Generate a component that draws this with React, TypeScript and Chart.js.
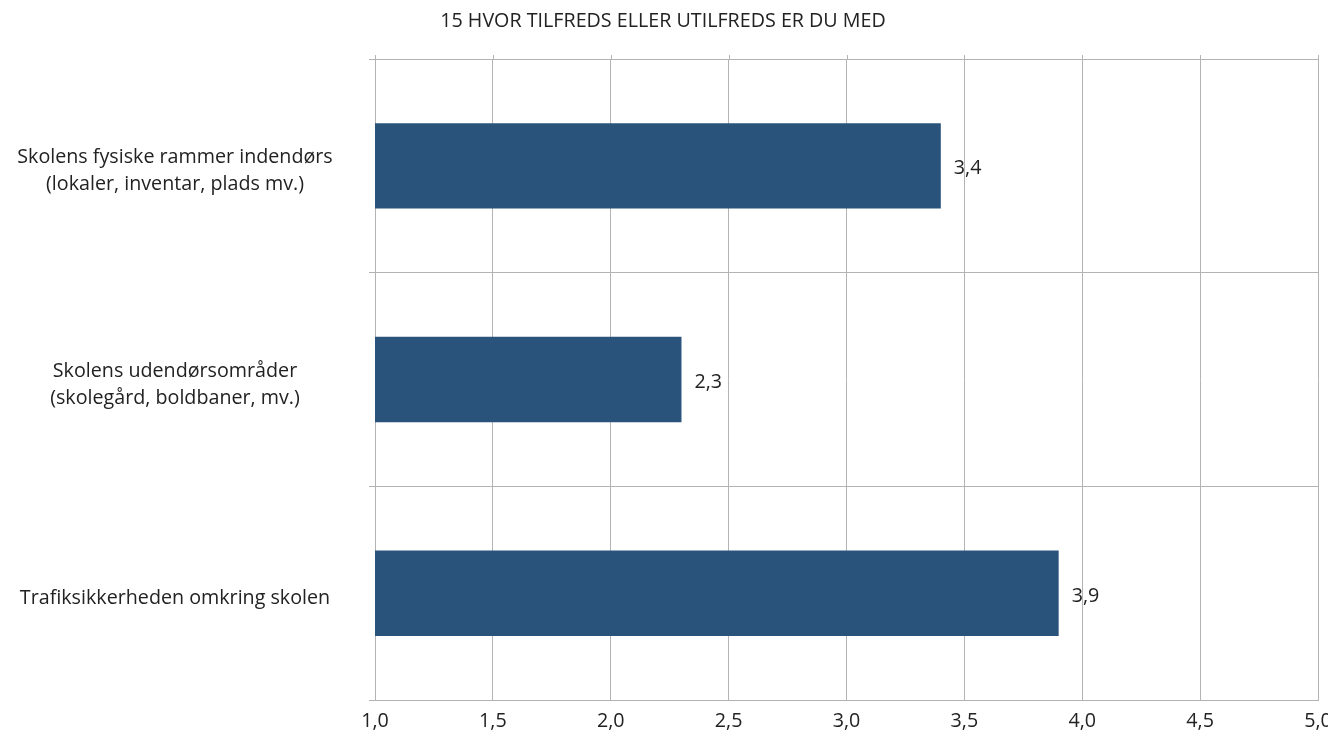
import React, { useEffect, useRef } from "react";
import { Chart, registerables } from "chart.js";

Chart.register(...registerables);

const TITLE = "15 HVOR TILFREDS ELLER UTILFREDS ER DU MED";
const categories: string[][] = [
  ["Skolens fysiske rammer indendørs", "(lokaler, inventar, plads mv.)"],
  ["Skolens udendørsområder", "(skolegård, boldbaner, mv.)"],
  ["Trafiksikkerheden omkring skolen"],
];
const values: number[] = [3.4, 2.3, 3.9];
const xMin = 1.0;
const xMax = 5.0;
const xStep = 0.5;

const FONT_FAMILY = "'Open Sans', 'Noto Sans', sans-serif";
const FONT_SIZE = 19.7;
const BAR_COLOR = "#29537a";
const GRID_COLOR = "#b3b3b3";
const TEXT_COLOR = "#222222";

const fmt = (v: number, d = 1) => v.toFixed(d).replace(".", ",");

export default function App() {
  const ref = useRef<HTMLCanvasElement | null>(null);

  useEffect(() => {
    document.body.style.overflow = "hidden";
    const canvas = ref.current!;

    const labelFont = { family: FONT_FAMILY, size: FONT_SIZE };
    const LABEL_CENTER = 167;
    const AXIS_LEFT = 367;
    const TICK_LEN = 6;

    const mctx = document.createElement("canvas").getContext("2d")!;
    mctx.font = `${FONT_SIZE}px ${FONT_FAMILY}`;
    let widest = 0;
    categories.forEach((c) => c.forEach((l) => (widest = Math.max(widest, mctx.measureText(l).width))));
    const yPad = Math.max(0, AXIS_LEFT - TICK_LEN - LABEL_CENTER - widest / 2);

    const valueLabels = {
      id: "valueLabels",
      afterDatasetsDraw(chart: any) {
        const ctx = chart.ctx;
        const meta = chart.getDatasetMeta(0);
        ctx.save();
        ctx.font = `${FONT_SIZE}px ${FONT_FAMILY}`;
        ctx.fillStyle = TEXT_COLOR;
        ctx.textAlign = "left";
        ctx.textBaseline = "middle";
        meta.data.forEach((bar: any, i: number) => {
          ctx.fillText(fmt(values[i]), bar.x + 13, bar.y + 3);
        });
        ctx.restore();
      },
    };

    const topTicks = {
      id: "topTicks",
      afterDraw(chart: any) {
        const ctx = chart.ctx;
        const xs = chart.scales.x;
        const top = chart.chartArea.top;
        ctx.save();
        ctx.strokeStyle = GRID_COLOR;
        ctx.lineWidth = 1;
        xs.ticks.forEach((t: any) => {
          const px = Math.round(xs.getPixelForValue(t.value)) + 0.5;
          ctx.beginPath();
          ctx.moveTo(px, top - 4);
          ctx.lineTo(px, top);
          ctx.stroke();
        });
        ctx.restore();
      },
    };

    const chart = new Chart(canvas, {
      type: "bar",
      data: {
        labels: categories,
        datasets: [
          {
            data: values,
            backgroundColor: BAR_COLOR,
            borderWidth: 0,
            barPercentage: 0.8,
            categoryPercentage: 0.5,
          },
        ],
      },
      options: {
        indexAxis: "y",
        animation: false,
        responsive: true,
        maintainAspectRatio: false,
        layout: { padding: { left: 0, right: 18, top: 0, bottom: 0 } },
        plugins: {
          legend: { display: false },
          tooltip: { enabled: false },
          title: {
            display: true,
            text: TITLE,
            color: TEXT_COLOR,
            font: { family: FONT_FAMILY, size: FONT_SIZE, weight: "normal", lineHeight: 1.2 },
            padding: { top: 2, bottom: 25.4 },
          },
        },
        scales: {
          x: {
            type: "linear",
            min: xMin,
            max: xMax,
            ticks: {
              stepSize: xStep,
              color: TEXT_COLOR,
              font: labelFont,
              padding: 10,
              maxRotation: 0,
              callback: (v: any) => fmt(Number(v)),
            },
            grid: { color: GRID_COLOR, drawTicks: false, lineWidth: 1 },
            border: { color: GRID_COLOR, width: 1 },
            afterFit: (s: any) => {
              s.height = 38;
              s.paddingLeft = 0;
              s.paddingRight = 0;
            },
          },
          y: {
            type: "category",
            ticks: {
              color: TEXT_COLOR,
              font: { ...labelFont, lineHeight: 1.37 },
              crossAlign: "center",
              padding: yPad,
              labelOffset: 5,
            },
            grid: {
              color: GRID_COLOR,
              offset: true,
              drawTicks: true,
              tickLength: TICK_LEN,
              lineWidth: 1,
            },
            border: { color: GRID_COLOR, width: 1 },
            afterFit: (s: any) => {
              s.width = AXIS_LEFT;
              s.paddingTop = 0;
              s.paddingBottom = 0;
            },
          },
        },
      },
      plugins: [valueLabels, topTicks],
    });

    return () => chart.destroy();
  }, []);

  return (
    <div style={{ width: 1328, height: 730, position: "relative" }}>
      <canvas ref={ref} />
    </div>
  );
}
